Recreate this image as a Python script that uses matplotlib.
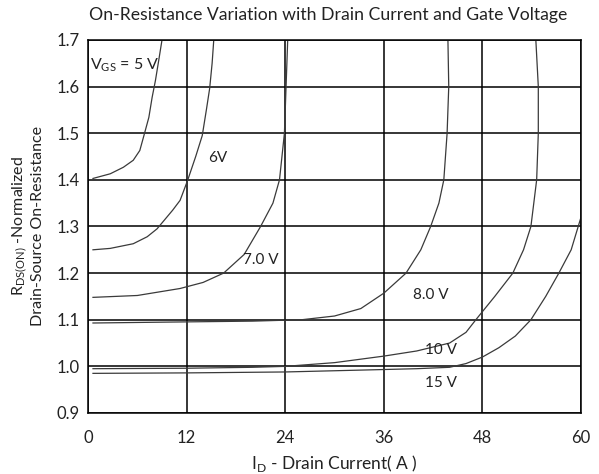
import matplotlib.pyplot as plt

plt.rcParams['font.family'] = ['Lato', 'DejaVu Sans']

# drain current (A) and normalized on-resistance
i_5v = [0.6, 2.7, 4.3, 5.5, 6.3, 6.8, 7.4, 7.8, 8.2, 8.6, 9.0]
r_5v = [1.403, 1.413, 1.427, 1.442, 1.463, 1.495, 1.534, 1.577, 1.613, 1.656, 1.70]

i_6v = [0.6, 2.7, 5.5, 7.2, 8.4, 10.3, 11.2, 12.1, 13.1, 13.9, 14.4, 14.8, 15.1, 15.3]
r_6v = [1.250, 1.253, 1.263, 1.278, 1.295, 1.335, 1.356, 1.398, 1.45, 1.495, 1.55, 1.596, 1.65, 1.70]

i_7v = [0.6, 6, 11.2, 14, 16.5, 19, 21, 22.5, 23.3, 23.9, 24.1, 24.3]
r_7v = [1.148, 1.152, 1.167, 1.18, 1.20, 1.24, 1.30, 1.35, 1.40, 1.50, 1.60, 1.70]

i_8v = [0.6, 10, 20, 26, 30, 33.2, 36, 38.7, 40.5, 41.7, 42.7, 43.3, 43.7, 43.9, 43.8]
r_8v = [1.093, 1.095, 1.097, 1.10, 1.108, 1.124, 1.157, 1.20, 1.25, 1.30, 1.35, 1.40, 1.50, 1.60, 1.70]

i_10v = [0.6, 12, 20, 24, 30, 36, 40, 44, 46, 47.2, 49.5, 51.7, 53, 53.9, 54.6, 54.8, 54.8, 54.5]
r_10v = [0.995, 0.996, 0.998, 1.0, 1.008, 1.022, 1.033, 1.05, 1.073, 1.10, 1.15, 1.20, 1.25, 1.30, 1.40, 1.50, 1.60, 1.70]

i_15v = [0.6, 12, 24, 33.2, 40, 44, 46, 48, 50, 52, 53.9, 55.7, 57.3, 58.8, 60]
r_15v = [0.985, 0.986, 0.988, 0.992, 0.995, 0.998, 1.006, 1.02, 1.04, 1.065, 1.10, 1.15, 1.20, 1.25, 1.32]

x_ticks = [0, 12, 24, 36, 48, 60]
y_ticks = [0.9, 1.0, 1.1, 1.2, 1.3, 1.4, 1.5, 1.6, 1.7]

txt = '#222222'

fig = plt.figure(figsize=(5.99, 4.74), dpi=100)
ax = fig.add_axes([0.147, 0.1287, 0.823, 0.787])

for xs, ys in [(i_5v, r_5v), (i_6v, r_6v), (i_7v, r_7v),
               (i_8v, r_8v), (i_10v, r_10v), (i_15v, r_15v)]:
    ax.plot(xs, ys, color='#3a3a3a', lw=0.9)

ax.set_xlim(0, 60)
ax.set_ylim(0.9, 1.7)
ax.set_xticks(x_ticks)
ax.set_yticks(y_ticks)
ax.set_yticklabels(['%.1f' % v for v in y_ticks])
ax.grid(True, color='black', lw=1.1)
ax.set_axisbelow(True)
for s in ax.spines.values():
    s.set_color('black')
    s.set_linewidth(1.1)
ax.tick_params(axis='y', length=0, labelsize=12, pad=6, colors=txt)
ax.tick_params(axis='x', length=0, labelsize=12, pad=12, colors=txt)

# curve labels
ax.text(0.2, 1.645, r'V$_{\mathregular{GS}}$ = 5 V', fontsize=11.5, va='center', color=txt)
ax.text(14.6, 1.446, '6V', fontsize=11, va='center', color=txt)
ax.text(18.8, 1.228, '7.0 V', fontsize=11, va='center', color=txt)
ax.text(39.6, 1.152, '8.0 V', fontsize=11, va='center', color=txt)
ax.text(41.0, 1.035, '10 V', fontsize=11, va='center', color=txt)
ax.text(41.0, 0.964, '15 V', fontsize=11, va='center', color=txt)

ax.set_xlabel(r'I$_{\mathregular{D}}$ - Drain Current( A )', fontsize=12.5, color=txt, labelpad=5)
ax.set_ylabel('R$_{\\mathregular{DS(ON)}}$ -Normalized\nDrain-Source On-Resistance',
              fontsize=11.5, color=txt, labelpad=8, linespacing=1.15)

fig.text(328 / 599, 1 - 15 / 474, 'On-Resistance Variation with Drain Current and Gate Voltage',
         ha='center', va='center', fontsize=12.7, color=txt)

fig.savefig('out.png', dpi=100)
